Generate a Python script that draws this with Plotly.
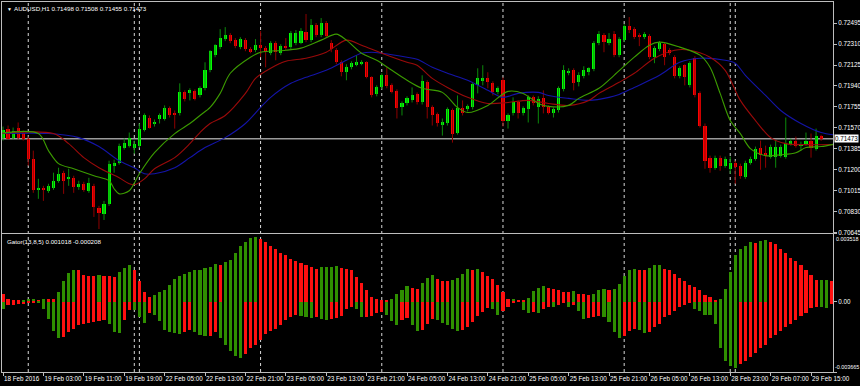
import pandas as pd
import plotly.graph_objects as go

symbol_title = "AUDUSD,H1 0.71498 0.71508 0.71455 0.71473"
gator_title = "Gator(13,8,5) 0.001018 -0.000208"

# trading sessions of the hourly bars shown (weekend gaps removed)
sessions = [("2016-02-18 19:00", "2016-02-19 20:00"),
            ("2016-02-21 23:00", "2016-02-26 20:00"),
            ("2016-02-28 23:00", "2016-02-29 17:00")]

opens = [0.71483, 0.71563, 0.71483, 0.71572, 0.71528, 0.71475, 0.71297, 0.71022, 0.71039, 0.71013,
         0.71039, 0.71102, 0.71173, 0.71119, 0.71128, 0.71048, 0.71075, 0.71013, 0.71057, 0.70862,
         0.70809, 0.70897, 0.71235, 0.71261, 0.71395, 0.71412, 0.71395, 0.71412, 0.71554, 0.71661,
         0.71608, 0.71652, 0.71652, 0.71741, 0.71697, 0.71697, 0.71883, 0.71874, 0.71892, 0.71856,
         0.71919, 0.72078, 0.72212, 0.72283, 0.72354, 0.72389, 0.72345, 0.72283, 0.72345, 0.72265,
         0.72256, 0.72300, 0.72274, 0.72229, 0.72318, 0.72229, 0.72292, 0.72283, 0.72318, 0.72318,
         0.72416, 0.72345, 0.72478, 0.72389, 0.72496, 0.72318, 0.72256, 0.72149, 0.72061, 0.72105,
         0.72132, 0.72141, 0.72149, 0.72016, 0.71865, 0.71927, 0.72034, 0.71945, 0.71892, 0.71750,
         0.71785, 0.71812, 0.71865, 0.71794, 0.71972, 0.71750, 0.71688, 0.71599, 0.71608, 0.71723,
         0.71528, 0.71741, 0.71732, 0.71750, 0.71945, 0.71981, 0.72007, 0.71963, 0.71883, 0.71990,
         0.71626, 0.71697, 0.71794, 0.71697, 0.71732, 0.71839, 0.71750, 0.71830, 0.71750, 0.71697,
         0.71723, 0.71910, 0.72061, 0.72078, 0.71972, 0.72025, 0.72061, 0.72087, 0.72318, 0.72389,
         0.72318, 0.72398, 0.72212, 0.72345, 0.72469, 0.72442, 0.72389, 0.72371, 0.72380, 0.72194,
         0.72265, 0.72309, 0.72256, 0.72194, 0.72025, 0.72123, 0.71945, 0.72185, 0.71874, 0.71590,
         0.71306, 0.71217, 0.71306, 0.71235, 0.71208, 0.71261, 0.71235, 0.71137, 0.71261, 0.71297,
         0.71395, 0.71350, 0.71315, 0.71315, 0.71324, 0.71315, 0.71430, 0.71457, 0.71412, 0.71430,
         0.71457, 0.71386, 0.71498]
highs = [0.71581, 0.71590, 0.71572, 0.71617, 0.71546, 0.71492, 0.71368, 0.71119, 0.71057, 0.71075,
         0.71173, 0.71217, 0.71190, 0.71208, 0.71146, 0.71102, 0.71093, 0.71128, 0.71075, 0.70880,
         0.70924, 0.71279, 0.71288, 0.71430, 0.71475, 0.71528, 0.71457, 0.71608, 0.71697, 0.71679,
         0.71643, 0.71697, 0.71768, 0.71759, 0.71723, 0.71963, 0.71901, 0.71919, 0.71910, 0.71936,
         0.72149, 0.72256, 0.72309, 0.72442, 0.72460, 0.72407, 0.72363, 0.72371, 0.72363, 0.72283,
         0.72354, 0.72425, 0.72292, 0.72336, 0.72336, 0.72309, 0.72363, 0.72425, 0.72434, 0.72451,
         0.72576, 0.72531, 0.72496, 0.72540, 0.72514, 0.72345, 0.72274, 0.72167, 0.72132, 0.72158,
         0.72212, 0.72167, 0.72158, 0.72025, 0.71945, 0.72052, 0.72105, 0.71963, 0.71910, 0.71803,
         0.71848, 0.71927, 0.71883, 0.72034, 0.71990, 0.71768, 0.71705, 0.71652, 0.71750, 0.71741,
         0.71856, 0.71812, 0.71776, 0.71972, 0.72096, 0.72123, 0.72061, 0.71981, 0.71936, 0.72016,
         0.71697, 0.71839, 0.71812, 0.71759, 0.71856, 0.71856, 0.71848, 0.71901, 0.71768, 0.71750,
         0.71936, 0.72123, 0.72096, 0.72096, 0.72061, 0.72114, 0.72105, 0.72336, 0.72425, 0.72407,
         0.72407, 0.72425, 0.72371, 0.72487, 0.72549, 0.72460, 0.72407, 0.72416, 0.72398, 0.72292,
         0.72336, 0.72327, 0.72274, 0.72212, 0.72114, 0.72132, 0.72158, 0.72203, 0.71892, 0.71608,
         0.71324, 0.71324, 0.71324, 0.71315, 0.71315, 0.71279, 0.71253, 0.71279, 0.71315, 0.71404,
         0.71457, 0.71412, 0.71421, 0.71457, 0.71421, 0.71661, 0.71475, 0.71492, 0.71448, 0.71528,
         0.71519, 0.71563, 0.71508]
lows = [0.71457, 0.71466, 0.71466, 0.71466, 0.71457, 0.71235, 0.70995, 0.70942, 0.70924, 0.70995,
        0.71022, 0.71084, 0.70986, 0.71057, 0.70995, 0.71022, 0.71004, 0.70995, 0.70782, 0.70675,
        0.70755, 0.70880, 0.71173, 0.71244, 0.71377, 0.71395, 0.71341, 0.71395, 0.71537, 0.71563,
        0.71581, 0.71608, 0.71634, 0.71661, 0.71563, 0.71679, 0.71803, 0.71812, 0.71812, 0.71839,
        0.71901, 0.72061, 0.72194, 0.72265, 0.72336, 0.72318, 0.72274, 0.72265, 0.72247, 0.72229,
        0.72238, 0.72194, 0.72105, 0.72212, 0.72167, 0.72212, 0.72256, 0.72265, 0.72300, 0.72309,
        0.72327, 0.72327, 0.72371, 0.72371, 0.72363, 0.72238, 0.72132, 0.72025, 0.71990, 0.72087,
        0.72114, 0.72123, 0.72007, 0.71839, 0.71848, 0.71910, 0.71919, 0.71874, 0.71652, 0.71679,
        0.71768, 0.71794, 0.71776, 0.71776, 0.71652, 0.71590, 0.71581, 0.71501, 0.71590, 0.71439,
        0.71510, 0.71679, 0.71714, 0.71732, 0.71874, 0.71945, 0.71919, 0.71856, 0.71865, 0.71581,
        0.71563, 0.71679, 0.71652, 0.71679, 0.71617, 0.71768, 0.71608, 0.71697, 0.71688, 0.71661,
        0.71705, 0.71892, 0.72034, 0.71901, 0.71936, 0.72007, 0.72034, 0.72070, 0.72300, 0.72238,
        0.72300, 0.72194, 0.72194, 0.72327, 0.72407, 0.72354, 0.72292, 0.72354, 0.72176, 0.72141,
        0.72247, 0.72123, 0.72212, 0.72007, 0.72007, 0.71945, 0.71927, 0.71839, 0.71572, 0.71208,
        0.71173, 0.71199, 0.71190, 0.71217, 0.71164, 0.71075, 0.71119, 0.71119, 0.71244, 0.71279,
        0.71199, 0.71217, 0.71297, 0.71217, 0.71306, 0.71297, 0.71412, 0.71395, 0.71368, 0.71412,
        0.71306, 0.71368, 0.71455]
closes = [0.71554, 0.71475, 0.71546, 0.71483, 0.71475, 0.71297, 0.71022, 0.71039, 0.71022, 0.71057,
          0.71102, 0.71164, 0.71102, 0.71137, 0.71048, 0.71075, 0.71022, 0.71084, 0.70871, 0.70817,
          0.70897, 0.71253, 0.71261, 0.71412, 0.71439, 0.71483, 0.71430, 0.71563, 0.71679, 0.71572,
          0.71617, 0.71679, 0.71741, 0.71679, 0.71679, 0.71883, 0.71821, 0.71901, 0.71821, 0.71919,
          0.72078, 0.72247, 0.72300, 0.72363, 0.72389, 0.72336, 0.72292, 0.72354, 0.72265, 0.72238,
          0.72300, 0.72283, 0.72238, 0.72318, 0.72238, 0.72292, 0.72274, 0.72407, 0.72407, 0.72425,
          0.72345, 0.72478, 0.72389, 0.72496, 0.72380, 0.72265, 0.72149, 0.72061, 0.72105, 0.72141,
          0.72149, 0.72149, 0.72016, 0.71856, 0.71927, 0.72034, 0.71936, 0.71883, 0.71741, 0.71785,
          0.71830, 0.71856, 0.71794, 0.71981, 0.71750, 0.71679, 0.71608, 0.71617, 0.71732, 0.71519,
          0.71741, 0.71697, 0.71759, 0.71954, 0.72007, 0.72007, 0.71972, 0.71883, 0.71919, 0.71626,
          0.71679, 0.71794, 0.71697, 0.71741, 0.71839, 0.71785, 0.71821, 0.71750, 0.71705, 0.71732,
          0.71919, 0.72078, 0.72070, 0.71963, 0.72034, 0.72078, 0.72096, 0.72318, 0.72398, 0.72327,
          0.72354, 0.72212, 0.72354, 0.72469, 0.72434, 0.72371, 0.72371, 0.72398, 0.72194, 0.72274,
          0.72318, 0.72194, 0.72229, 0.72025, 0.72096, 0.72016, 0.72141, 0.71856, 0.71590, 0.71279,
          0.71217, 0.71306, 0.71235, 0.71297, 0.71261, 0.71226, 0.71146, 0.71261, 0.71297, 0.71386,
          0.71332, 0.71324, 0.71404, 0.71404, 0.71404, 0.71439, 0.71457, 0.71412, 0.71430, 0.71457,
          0.71395, 0.71501, 0.71473]

# Alligator lines, read at sampled bar positions
jaw_bar = [-1, 9, 15, 19, 23, 26, 28, 30, 34, 37, 40, 44, 48, 51, 53, 57, 60, 64, 68, 71,
           73, 75, 80, 82, 85, 88, 92, 96, 99, 102, 106, 108, 112, 116, 120, 122, 125, 130, 134, 138,
           143, 145, 147, 151, 154, 158, 162, 165]
jaw = [0.71519, 0.71519, 0.71483, 0.71404, 0.71279, 0.71217, 0.71164, 0.71164, 0.71217, 0.71306,
       0.71395, 0.71483, 0.71608, 0.71750, 0.71839, 0.71963, 0.72016, 0.72078, 0.72167, 0.72229,
       0.72238, 0.72229, 0.72194, 0.72176, 0.72105, 0.72052, 0.71990, 0.71901, 0.71839, 0.71874,
       0.71883, 0.71856, 0.71830, 0.71812, 0.71839, 0.71865, 0.71927, 0.72034, 0.72149, 0.72185,
       0.72167, 0.72141, 0.72034, 0.71856, 0.71723, 0.71608, 0.71528, 0.71505]
teeth_bar = [-1, 10, 13, 16, 19, 23, 25, 26, 28, 30, 34, 37, 39, 41, 44, 48, 50, 53, 56, 60,
             64, 68, 71, 75, 80, 82, 85, 88, 92, 96, 100, 104, 108, 112, 116, 118, 122, 125, 129, 133,
             136, 140, 143, 146, 149, 152, 155, 159, 165]
teeth = [0.71519, 0.71519, 0.71430, 0.71306, 0.71217, 0.71128, 0.71075, 0.71066, 0.71119, 0.71208,
         0.71306, 0.71430, 0.71528, 0.71608, 0.71679, 0.71874, 0.72007, 0.72096, 0.72158, 0.72185,
         0.72238, 0.72345, 0.72300, 0.72229, 0.72149, 0.72123, 0.72007, 0.71927, 0.71839, 0.71785,
         0.71794, 0.71812, 0.71785, 0.71768, 0.71812, 0.71874, 0.71972, 0.72052, 0.72185, 0.72256,
         0.72256, 0.72194, 0.72078, 0.71812, 0.71634, 0.71483, 0.71430, 0.71421, 0.71421]
lips_bar = [-1, 7, 9, 11, 14, 18, 21, 22, 23, 25, 27, 30, 34, 37, 39, 41, 43, 45, 49, 51,
            56, 59, 63, 66, 68, 71, 74, 77, 80, 83, 87, 90, 92, 96, 100, 103, 106, 108, 112, 114,
            118, 121, 125, 128, 130, 134, 138, 140, 142, 144, 146, 148, 151, 154, 157, 159, 162, 165]
lips = [0.71519, 0.71519, 0.71368, 0.71253, 0.71208, 0.71146, 0.71102, 0.71031, 0.70986, 0.71013,
        0.71164, 0.71350, 0.71519, 0.71608, 0.71679, 0.71750, 0.71874, 0.72052, 0.72194, 0.72238,
        0.72256, 0.72274, 0.72345, 0.72398, 0.72345, 0.72229, 0.72167, 0.72078, 0.71990, 0.71919,
        0.71883, 0.71750, 0.71705, 0.71768, 0.71892, 0.71874, 0.71785, 0.71759, 0.71768, 0.71830,
        0.71919, 0.72034, 0.72194, 0.72300, 0.72327, 0.72283, 0.72212, 0.72105, 0.71874, 0.71634,
        0.71519, 0.71386, 0.71324, 0.71332, 0.71350, 0.71395, 0.71404, 0.71430]

# Gator oscillator, one value per bar (extends past the last candle)
gator_up = [0.00037, 0.00011, 0.00009, 0.00007, 0.00009, 0.00011, 0.00011, 0.00009, 0.00015, 0.00013,
            0.00011, 0.00052, 0.00107, 0.00147, 0.00166, 0.00162, 0.00138, 0.00134, 0.00133, 0.00138,
            0.00134, 0.00133, 0.00129, 0.00153, 0.00175, 0.00193, 0.00166, 0.00107, 0.00048, 0.00024,
            0.00033, 0.00052, 0.00061, 0.00088, 0.00116, 0.00134, 0.00144, 0.00153, 0.00162, 0.00166,
            0.00177, 0.00180, 0.00195, 0.00193, 0.00208, 0.00217, 0.00254, 0.00287, 0.00309, 0.00331,
            0.00337, 0.00324, 0.00309, 0.00291, 0.00272, 0.00254, 0.00245, 0.00221, 0.00212, 0.00199,
            0.00190, 0.00180, 0.00171, 0.00180, 0.00181, 0.00182, 0.00183, 0.00175, 0.00171, 0.00166,
            0.00129, 0.00098, 0.00061, 0.00024, 0.00011, 0.00010, 0.00009, 0.00015, 0.00037, 0.00061,
            0.00079, 0.00070, 0.00066, 0.00098, 0.00125, 0.00140, 0.00116, 0.00107, 0.00105, 0.00110,
            0.00121, 0.00144, 0.00171, 0.00166, 0.00171, 0.00153, 0.00134, 0.00116, 0.00085, 0.00052,
            0.00011, 0.00012, 0.00006, 0.00004, 0.00018, 0.00055, 0.00070, 0.00079, 0.00070, 0.00064,
            0.00061, 0.00052, 0.00050, 0.00054, 0.00042, 0.00037, 0.00036, 0.00042, 0.00061, 0.00064,
            0.00061, 0.00066, 0.00092, 0.00134, 0.00166, 0.00171, 0.00166, 0.00165, 0.00175, 0.00190,
            0.00193, 0.00171, 0.00162, 0.00144, 0.00125, 0.00107, 0.00088, 0.00074, 0.00061, 0.00033,
            0.00024, 0.00006, 0.00011, 0.00064, 0.00153, 0.00245, 0.00272, 0.00291, 0.00309, 0.00307,
            0.00315, 0.00318, 0.00309, 0.00300, 0.00272, 0.00254, 0.00226, 0.00210, 0.00190, 0.00165,
            0.00140, 0.00110, 0.00112, 0.00114, 0.00105]
gator_dn = [-0.00037, -0.00018, -0.00017, -0.00015, -0.00013, -0.00007, -0.00004, -0.00004, -0.00040, -0.00092,
            -0.00151, -0.00191, -0.00184, -0.00160, -0.00142, -0.00123, -0.00114, -0.00110, -0.00105, -0.00099,
            -0.00096, -0.00114, -0.00160, -0.00166, -0.00096, -0.00044, -0.00046, -0.00081, -0.00110, -0.00059,
            -0.00070, -0.00100, -0.00150, -0.00160, -0.00165, -0.00170, -0.00160, -0.00150, -0.00160, -0.00175,
            -0.00180, -0.00177, -0.00160, -0.00188, -0.00225, -0.00258, -0.00283, -0.00294, -0.00271, -0.00243,
            -0.00225, -0.00202, -0.00169, -0.00151, -0.00142, -0.00123, -0.00096, -0.00081, -0.00068, -0.00074,
            -0.00081, -0.00087, -0.00081, -0.00092, -0.00096, -0.00092, -0.00087, -0.00074, -0.00040, -0.00026,
            -0.00040, -0.00081, -0.00080, -0.00074, -0.00059, -0.00055, -0.00068, -0.00099, -0.00123, -0.00096,
            -0.00087, -0.00123, -0.00151, -0.00147, -0.00114, -0.00092, -0.00096, -0.00110, -0.00123, -0.00142,
            -0.00151, -0.00147, -0.00132, -0.00105, -0.00074, -0.00055, -0.00031, -0.00037, -0.00068, -0.00050,
            -0.00026, -0.00007, -0.00002, -0.00044, -0.00059, -0.00055, -0.00059, -0.00040, -0.00026, -0.00028,
            -0.00020, -0.00007, -0.00026, -0.00020, -0.00050, -0.00092, -0.00087, -0.00081, -0.00074, -0.00081,
            -0.00105, -0.00160, -0.00191, -0.00179, -0.00151, -0.00142, -0.00147, -0.00166, -0.00160, -0.00132,
            -0.00114, -0.00081, -0.00068, -0.00050, -0.00026, -0.00018, -0.00007, -0.00040, -0.00050, -0.00068,
            -0.00069, -0.00114, -0.00239, -0.00307, -0.00335, -0.00348, -0.00324, -0.00307, -0.00289, -0.00265,
            -0.00243, -0.00225, -0.00188, -0.00173, -0.00151, -0.00132, -0.00114, -0.00096, -0.00077, -0.00059,
            -0.00035, -0.00028, -0.00030, -0.00031, -0.00015]

price_ticks = [0.72495, 0.72310, 0.72125, 0.71940, 0.71755, 0.71570, 0.71385, 0.71200, 0.71015, 0.70830, 0.70645]
last_price = 0.71473
gator_max = 0.003518
gator_min = -0.003665

# ---------------------------------------------------------------- styling
BG = "#000000"
AXC = "#bdbdbd"
FONT = "Liberation Sans"
BULL_BODY, BEAR_BODY = "#00ff00", "#ff0000"
BULL_WICK, BEAR_WICK = "#0b8a0b", "#8e0000"
G_GREEN, G_RED = "#2f8f00", "#ff1010"

n = len(opens)
times = [t for a, b in sessions for t in pd.date_range(a, b, freq="h")]
bars = list(range(n))
tick_bars = list(range(0, n, 8))
tick_text = [times[0].strftime("%d %b %Y")] + [times[i].strftime("%d %b %H:%M") for i in tick_bars[1:]]
sep_bars = [i for i in range(1, n) if times[i].date() != times[i - 1].date()]

fig = go.Figure()

# wicks
for up, col in ((True, BULL_WICK), (False, BEAR_WICK)):
    xs, ys = [], []
    for i in bars:
        if (closes[i] >= opens[i]) == up:
            xs += [i, i, None]
            ys += [lows[i], highs[i], None]
    fig.add_trace(go.Scatter(x=xs, y=ys, mode="lines", line=dict(color=col, width=1),
                             hoverinfo="skip", xaxis="x", yaxis="y", showlegend=False))

# bodies
for up, col in ((True, BULL_BODY), (False, BEAR_BODY)):
    idx = [i for i in bars if (closes[i] >= opens[i]) == up]
    base = [min(opens[i], closes[i]) for i in idx]
    hgt = [max(abs(closes[i] - opens[i]), 0.00002) for i in idx]
    fig.add_trace(go.Bar(x=idx, y=hgt, base=base, width=0.62, marker=dict(color=col, line=dict(width=0)),
                         xaxis="x", yaxis="y", showlegend=False, hoverinfo="skip"))

# alligator
for xb, yv, col in ((jaw_bar, jaw, "#1414a8"), (teeth_bar, teeth, "#9a0a0a"), (lips_bar, lips, "#3c9c00")):
    fig.add_trace(go.Scatter(x=xb, y=yv, mode="lines", line=dict(color=col, width=1.1, shape="spline", smoothing=0.9),
                             xaxis="x", yaxis="y", showlegend=False, hoverinfo="skip"))

# gator histogram
gbars = list(range(len(gator_up)))
up_cols = [G_RED if (i == 0 or abs(gator_up[i]) < abs(gator_up[i - 1])) else G_GREEN for i in gbars]
dn_cols = [G_GREEN if i == 0 else (G_RED if abs(gator_dn[i]) < abs(gator_dn[i - 1]) else G_GREEN) for i in gbars]
fig.add_trace(go.Bar(x=gbars, y=gator_up, width=0.62, marker=dict(color=up_cols, line=dict(width=0)),
                     xaxis="x2", yaxis="y2", showlegend=False, hoverinfo="skip"))
fig.add_trace(go.Bar(x=gbars, y=gator_dn, width=0.62, marker=dict(color=dn_cols, line=dict(width=0)),
                     xaxis="x2", yaxis="y2", showlegend=False, hoverinfo="skip"))

shapes = []
for s in sep_bars:
    shapes.append(dict(type="line", xref="x", yref="paper", x0=s, x1=s, y0=0, y1=1,
                       line=dict(color="#d8d8d8", width=1, dash="dot"), layer="below"))
shapes.append(dict(type="line", xref="paper", yref="y", x0=0, x1=1, y0=last_price, y1=last_price,
                   line=dict(color="#9a9a9a", width=1.6), layer="below"))

tickfont = dict(family=FONT, size=6.3, color="#ffffff")
smallfont = dict(family=FONT, size=5.4, color="#ffffff")
main_dom = [0.3757, 1.0]
gator_dom = [0.0, 0.373]
xr = [-0.2, 164.35]

annotations = [
    dict(text="▼", xref="paper", yref="paper", x=0, y=1, xanchor="left", yanchor="top", xshift=3, yshift=-2,
         showarrow=False, font=dict(family=FONT, size=5, color="#ffffff")),
    dict(text=symbol_title, xref="paper", yref="paper", x=0, y=1, xanchor="left", yanchor="top", xshift=10, yshift=-1,
         showarrow=False, font=dict(family=FONT, size=6.2, color="#ffffff")),
    dict(text=gator_title, xref="paper", yref="paper", x=0, y=gator_dom[1], xanchor="left", yanchor="top",
         xshift=3, yshift=-2, showarrow=False, font=dict(family=FONT, size=6.2, color="#ffffff")),
    dict(text=f"{last_price:.5f}", xref="paper", yref="y", x=1, y=last_price, xanchor="left", yanchor="middle",
         xshift=1, showarrow=False, bgcolor="#ffffff", borderpad=0,
         font=dict(family=FONT, size=6.3, color="#000000")),
    dict(text=f"{gator_max:.6f}", xref="paper", yref="y2", x=1, y=gator_max, xanchor="left", yanchor="top",
         xshift=1, showarrow=False, font=smallfont),
    dict(text=f"{gator_min:.6f}", xref="paper", yref="y2", x=1, y=gator_min, xanchor="left", yanchor="bottom",
         xshift=0, showarrow=False, font=smallfont),
]

fig.update_layout(
    width=860, height=386,
    margin=dict(l=2, r=27, t=2, b=14, autoexpand=False),
    paper_bgcolor=BG, plot_bgcolor=BG,
    barmode="overlay", bargap=0,
    showlegend=False,
    shapes=shapes, annotations=annotations,
    xaxis=dict(domain=[0, 1], anchor="y", range=xr, showgrid=False, zeroline=False, showticklabels=False,
               showline=True, mirror=True, linecolor=AXC, linewidth=1, ticks=""),
    yaxis=dict(domain=main_dom, anchor="x", side="right", range=[0.70640, 0.72682], showgrid=False,
               zeroline=False, showline=True, mirror=True, linecolor=AXC, linewidth=1,
               tickvals=price_ticks, ticktext=[f"{v:.5f}" for v in price_ticks], ticks="outside",
               ticklen=3, tickcolor=AXC, tickfont=tickfont),
    xaxis2=dict(domain=[0, 1], anchor="y2", matches="x", range=xr, showgrid=False, zeroline=False,
                showline=True, mirror=True, linecolor=AXC, linewidth=1,
                tickvals=tick_bars, ticktext=tick_text, ticks="outside", ticklen=3, tickcolor=AXC,
                ticklabelposition="outside right", tickfont=tickfont, tickangle=0),
    yaxis2=dict(domain=gator_dom, anchor="x2", side="right", range=[gator_min, gator_max], showgrid=False,
                zeroline=False, showline=True, mirror=True, linecolor=AXC, linewidth=1,
                tickvals=[gator_max, 0.0, gator_min], ticktext=["", "0.00", ""], ticks="outside",
                ticklen=3, tickcolor=AXC, tickfont=tickfont),
)

fig.write_html("out.html")
